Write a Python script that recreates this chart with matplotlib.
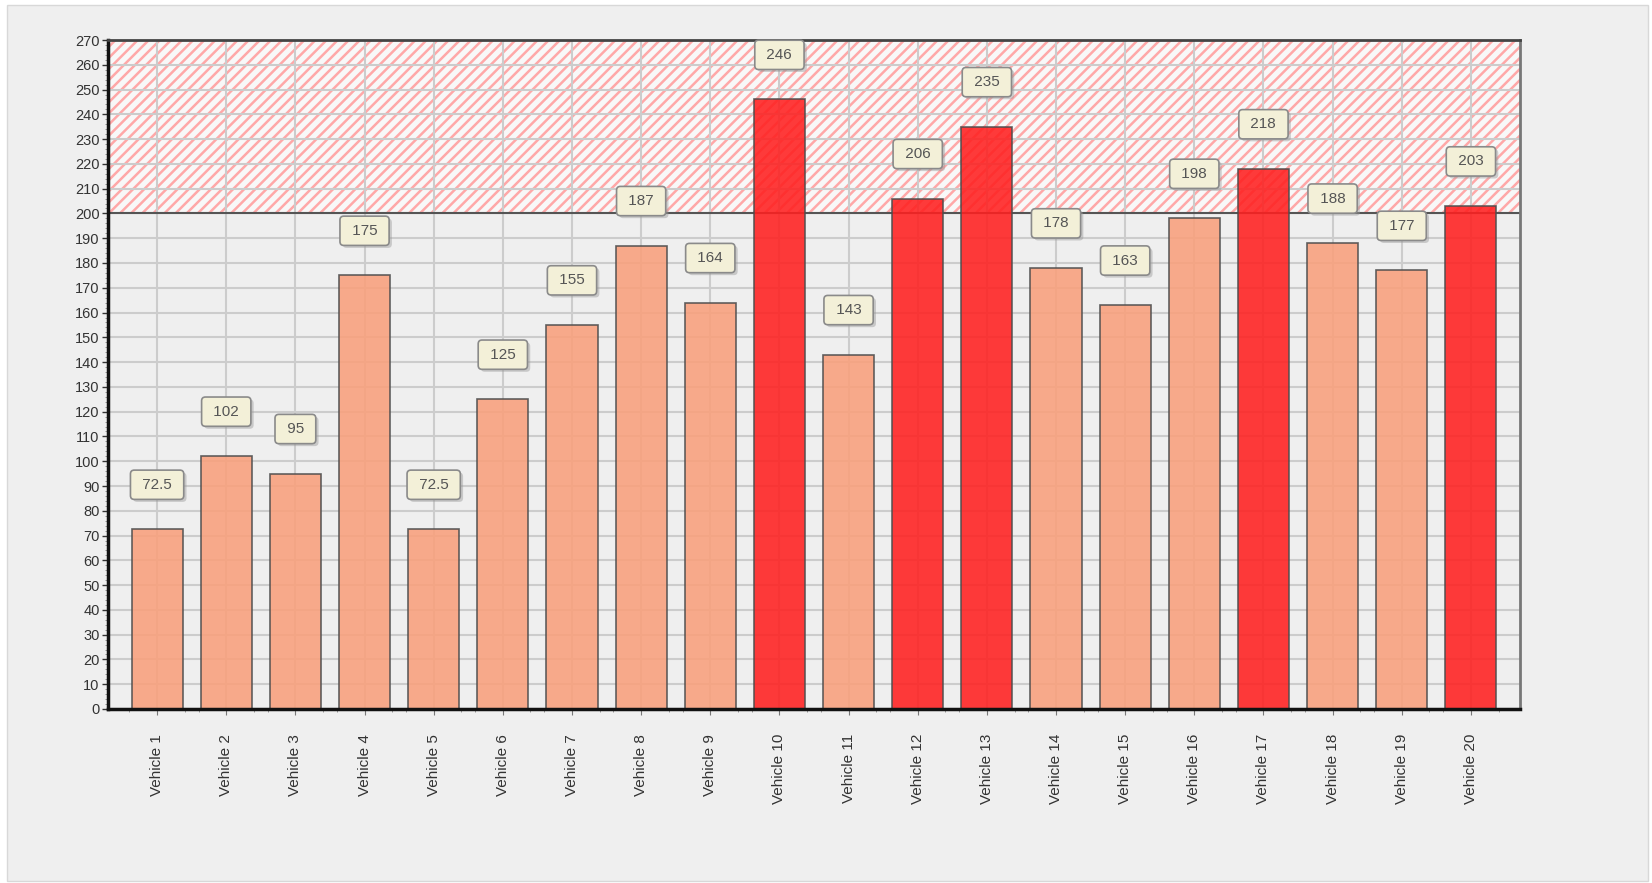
import matplotlib
matplotlib.use("Agg")
import matplotlib.pyplot as plt
from matplotlib.patches import Rectangle
from matplotlib.ticker import MultipleLocator

plt.rcParams["font.family"] = ["Liberation Sans", "DejaVu Sans"]
plt.rcParams["hatch.linewidth"] = 1.8

categories = [f"Vehicle {i}" for i in range(1, 21)]
values = [72.5, 102, 95, 175, 72.5, 125, 155, 187, 164, 246,
          143, 206, 235, 178, 163, 198, 218, 188, 177, 203]
threshold = 200
ymax = 270

fig = plt.figure(figsize=(16.52, 8.83), dpi=100, facecolor="white")
fig.patches.append(Rectangle((7/1652, 2/883), 1641/1652, 876/883, transform=fig.transFigure,
                             facecolor="#efefef", edgecolor="#d8d8d8", lw=1, zorder=-10))
ax = fig.add_axes([108/1652, 1 - 709/883, (1520-108)/1652, (709-40)/883])
ax.set_facecolor("#efefef")

x = list(range(len(categories)))
ax.set_xlim(-0.71, len(categories) - 0.29)
ax.set_ylim(0, ymax)

ax.set_axisbelow(True)
ax.grid(True, color="#cccccc", lw=1.5)

# hatched threshold region
ax.axhspan(threshold, ymax, facecolor="#f8f8f8", edgecolor="#ffa8a8", hatch="///", lw=0, zorder=0.3)
ax.axhline(threshold, color="#555555", lw=1.5, zorder=1.5)

colors = ["#ff2020" if v > threshold else "#f9a07c" for v in values]
bars = ax.bar(x, values, width=0.74, color=colors, lw=1.2, zorder=2)
for b in bars:
    b.set_alpha(0.88)
    b.set_edgecolor((0.3, 0.3, 0.3, 1.0))

for xi, v in zip(x, values):
    txt = f" {v:g} "
    ax.text(xi + 0.04, v + 18 - 1.0, txt, ha="center", va="center", fontsize=11, color="none", zorder=5,
            bbox=dict(boxstyle="round,pad=0.5,rounding_size=0.25", facecolor="#999999",
                      edgecolor="none", alpha=0.45))
    ax.text(xi, v + 18, txt, ha="center", va="center", fontsize=11, color="#555555", zorder=6,
            bbox=dict(boxstyle="round,pad=0.5,rounding_size=0.25", facecolor="#f3f0d8",
                      edgecolor="#8a8a8a", lw=1.2))

ax.yaxis.set_major_locator(MultipleLocator(10))
ax.yaxis.set_minor_locator(MultipleLocator(2))
ax.set_xticks(x)
ax.set_xticklabels(categories, rotation=90, fontsize=11, color="#333333")
ax.set_xticks([i + d for i in x for d in (-0.4, 0.4)], minor=True)
ax.tick_params(axis="y", labelsize=10.5, colors="#333333", length=4, width=1, pad=2)
ax.tick_params(axis="y", which="minor", length=2, color="#888888")
ax.tick_params(axis="x", length=4, color="#777777", pad=14)
ax.tick_params(axis="x", which="minor", length=2, color="#888888")

ax.spines["left"].set_linewidth(2.5)
ax.spines["left"].set_color("#111111")
ax.spines["bottom"].set_linewidth(2.5)
ax.spines["bottom"].set_color("#111111")
ax.spines["top"].set_linewidth(2)
ax.spines["top"].set_color("#444444")
ax.spines["right"].set_linewidth(2)
ax.spines["right"].set_color("#777777")

fig.savefig("out.png", dpi=100, facecolor=fig.get_facecolor())
